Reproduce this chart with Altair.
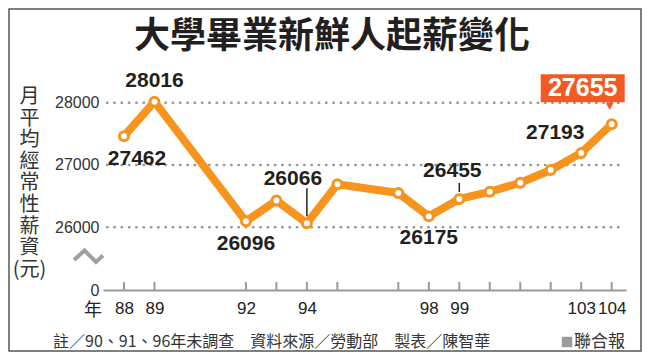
import altair as alt
import pandas as pd

# ---------------- data ----------------
years = [88, 89, 92, 93, 94, 95, 97, 98, 99, 100, 101, 102, 103, 104]
salary = [27462, 28016, 26096, 26430, 26066, 26690, 26550, 26175, 26455, 26570, 26715, 26920, 27193, 27655]
tick_labels = [88, 89, 92, 94, 98, 99, 103, 104]
y_tick_values = [0, 26000, 27000, 28000]
grid_values = [26000, 27000, 28000]
labeled_years = [88, 89, 92, 94, 98, 99, 103]
highlight_year = 104
leader_years = [94, 99]
title_text = "大學畢業新鮮人起薪變化"
y_title = "月\n平\n均\n經\n常\n性\n薪\n資\n(元)"
x_unit = "年"
footnote = "註／90、91、96年未調查　資料來源／勞動部　製表／陳智華"
source_text = "聯合報"

# label offsets (pixels) for each labelled year
label_dx = [13, 0, 0, -14, 0, -7, -26]
label_dy = [23, -21, 23, -44, 22, -28, -20]
leader_offsets = {94: (-35, -7), 99: (-16, -7)}

df = pd.DataFrame({"year": years, "salary": salary})
W, H = 523, 230
ORANGE = "#F7941D"
RED = "#F15A24"
NUM_FONT = "Liberation Sans"
CJK_FONT = "Noto Sans CJK TC"

x_scale = alt.Scale(domain=[87.311, 104.469], nice=False, zero=False)
y_scale = alt.Scale(domain=[0, 26000, 28685], range=[H, 167.3, 0], nice=False, zero=False)

X = alt.X("year:Q", scale=x_scale,
          axis=alt.Axis(values=tick_labels, format="d", title=None, grid=False, ticks=False,
                        domain=True, domainColor="#9a9a9a", domainWidth=2,
                        labelFont=NUM_FONT, labelFontSize=17, labelColor="#222222",
                        labelPadding=10, labelFlush=False))
Y = alt.Y("salary:Q", scale=y_scale,
          axis=alt.Axis(values=y_tick_values, format="d", title=None, grid=False, ticks=False,
                        domain=False, labelFont=NUM_FONT, labelFontSize=16,
                        labelColor="#333333", labelPadding=4))

one = pd.DataFrame({"k": [0]})

# dotted grid lines
grid = alt.Chart(pd.DataFrame({"salary": grid_values})).mark_rule(
    color="#9a9a9a", strokeWidth=2.5, strokeDash=[0.5, 6.8], strokeCap="round"
).encode(y=Y, x=alt.value(4), x2=alt.value(517))

# upward ticks on x axis
ticks = alt.Chart(df).mark_rule(color="#9a9a9a", strokeWidth=2).encode(
    x=X, y=alt.value(H), y2=alt.value(H - 8))

line = alt.Chart(df).mark_line(color=ORANGE, strokeWidth=8, strokeJoin="round",
                               strokeCap="round").encode(x=X, y=Y)

leaders = []
for yr in leader_years:
    o1, o2 = leader_offsets[yr]
    leaders.append(
        alt.Chart(df).transform_filter(alt.datum.year == yr)
        .mark_rule(color="#222222", strokeWidth=1.5, yOffset=o1, y2Offset=o2)
        .encode(x=X, y=Y, y2=alt.Y2("salary:Q"))
    )

points = alt.Chart(df).mark_circle(fill="white", stroke=ORANGE, strokeWidth=3,
                                   size=80, opacity=1).encode(x=X, y=Y)

labels = []
for yr, dx, dy in zip(labeled_years, label_dx, label_dy):
    labels.append(
        alt.Chart(df).transform_filter(alt.datum.year == yr)
        .mark_text(font=NUM_FONT, fontSize=21, fontWeight="bold", color="#231f20",
                   dx=dx, dy=dy, baseline="middle", align="center")
        .encode(x=X, y=Y, text=alt.Text("salary:Q", format="d"))
    )

hl = df[df.year == highlight_year]
call_box = alt.Chart(hl).mark_rect(color=RED, xOffset=-71, x2Offset=13,
                                   yOffset=-50, y2Offset=-22).encode(
    x=X, x2=alt.X2("year:Q"), y=Y, y2=alt.Y2("salary:Q"))
call_tri = alt.Chart(hl).mark_point(shape="triangle-down", filled=True, color=RED,
                                    opacity=1, size=70, xOffset=-2, yOffset=-18).encode(x=X, y=Y)
call_txt = alt.Chart(hl).mark_text(font=NUM_FONT, fontSize=25, fontWeight="bold",
                                   color="white", dx=-29, dy=-36, baseline="middle").encode(
    x=X, y=Y, text=alt.Text("salary:Q", format="d"))

# annotations
title = alt.Chart(pd.DataFrame({"t": [title_text]})).mark_text(
    font=CJK_FONT, fontSize=36, fontWeight="bold", color="#231f20",
    align="center", baseline="middle"
).encode(text="t:N", x=alt.value(229), y=alt.value(-23))

ytitle = alt.Chart(pd.DataFrame({"t": [y_title]})).mark_text(
    font=CJK_FONT, fontSize=20, color="#333333", align="center", baseline="top",
    lineBreak="\n", lineHeight=21.6
).encode(text="t:N", x=alt.value(-73.5), y=alt.value(27))

xunit = alt.Chart(pd.DataFrame({"t": [x_unit]})).mark_text(
    font=CJK_FONT, fontSize=18, color="#222222", align="center", baseline="middle"
).encode(text="t:N", x=alt.value(-10), y=alt.value(251))

foot = alt.Chart(pd.DataFrame({"t": [footnote]})).mark_text(
    font=CJK_FONT, fontSize=16, color="#333333", align="left", baseline="middle"
).encode(text="t:N", x=alt.value(-50), y=alt.value(282))

src_sq = alt.Chart(one).mark_square(color="#9a9a9a", size=110, opacity=1).encode(
    x=alt.value(464), y=alt.value(282))
src = alt.Chart(pd.DataFrame({"t": [source_text]})).mark_text(
    font=CJK_FONT, fontSize=17, color="#333333", align="left", baseline="middle"
).encode(text="t:N", x=alt.value(471), y=alt.value(282))

brk = alt.Chart(pd.DataFrame({"px": [-29, -18.5, -7, 0], "py": [200, 190.5, 202, 195.5]})).mark_line(
    color="#a0a0a0", strokeWidth=4
).encode(x=alt.X("px:Q", scale=None), y=alt.Y("py:Q", scale=None))

frame = alt.Chart(one).mark_rect(fillOpacity=0, stroke="#555555", strokeWidth=1.5).encode(
    x=alt.value(-94), x2=alt.value(538), y=alt.value(-51), y2=alt.value(291))

chart = alt.layer(
    frame, grid, ticks, line, *leaders, points, *labels, call_box, call_tri, call_txt,
    title, ytitle, xunit, foot, src_sq, src, brk
).properties(
    width=W, height=H,
    autosize=alt.AutoSizeParams(type="none"),
    padding={"left": 95, "top": 52, "right": 16, "bottom": 62},
    background="white"
).configure_view(stroke=None)

chart.save("out.html", embed_options={"renderer": "svg", "actions": False})
